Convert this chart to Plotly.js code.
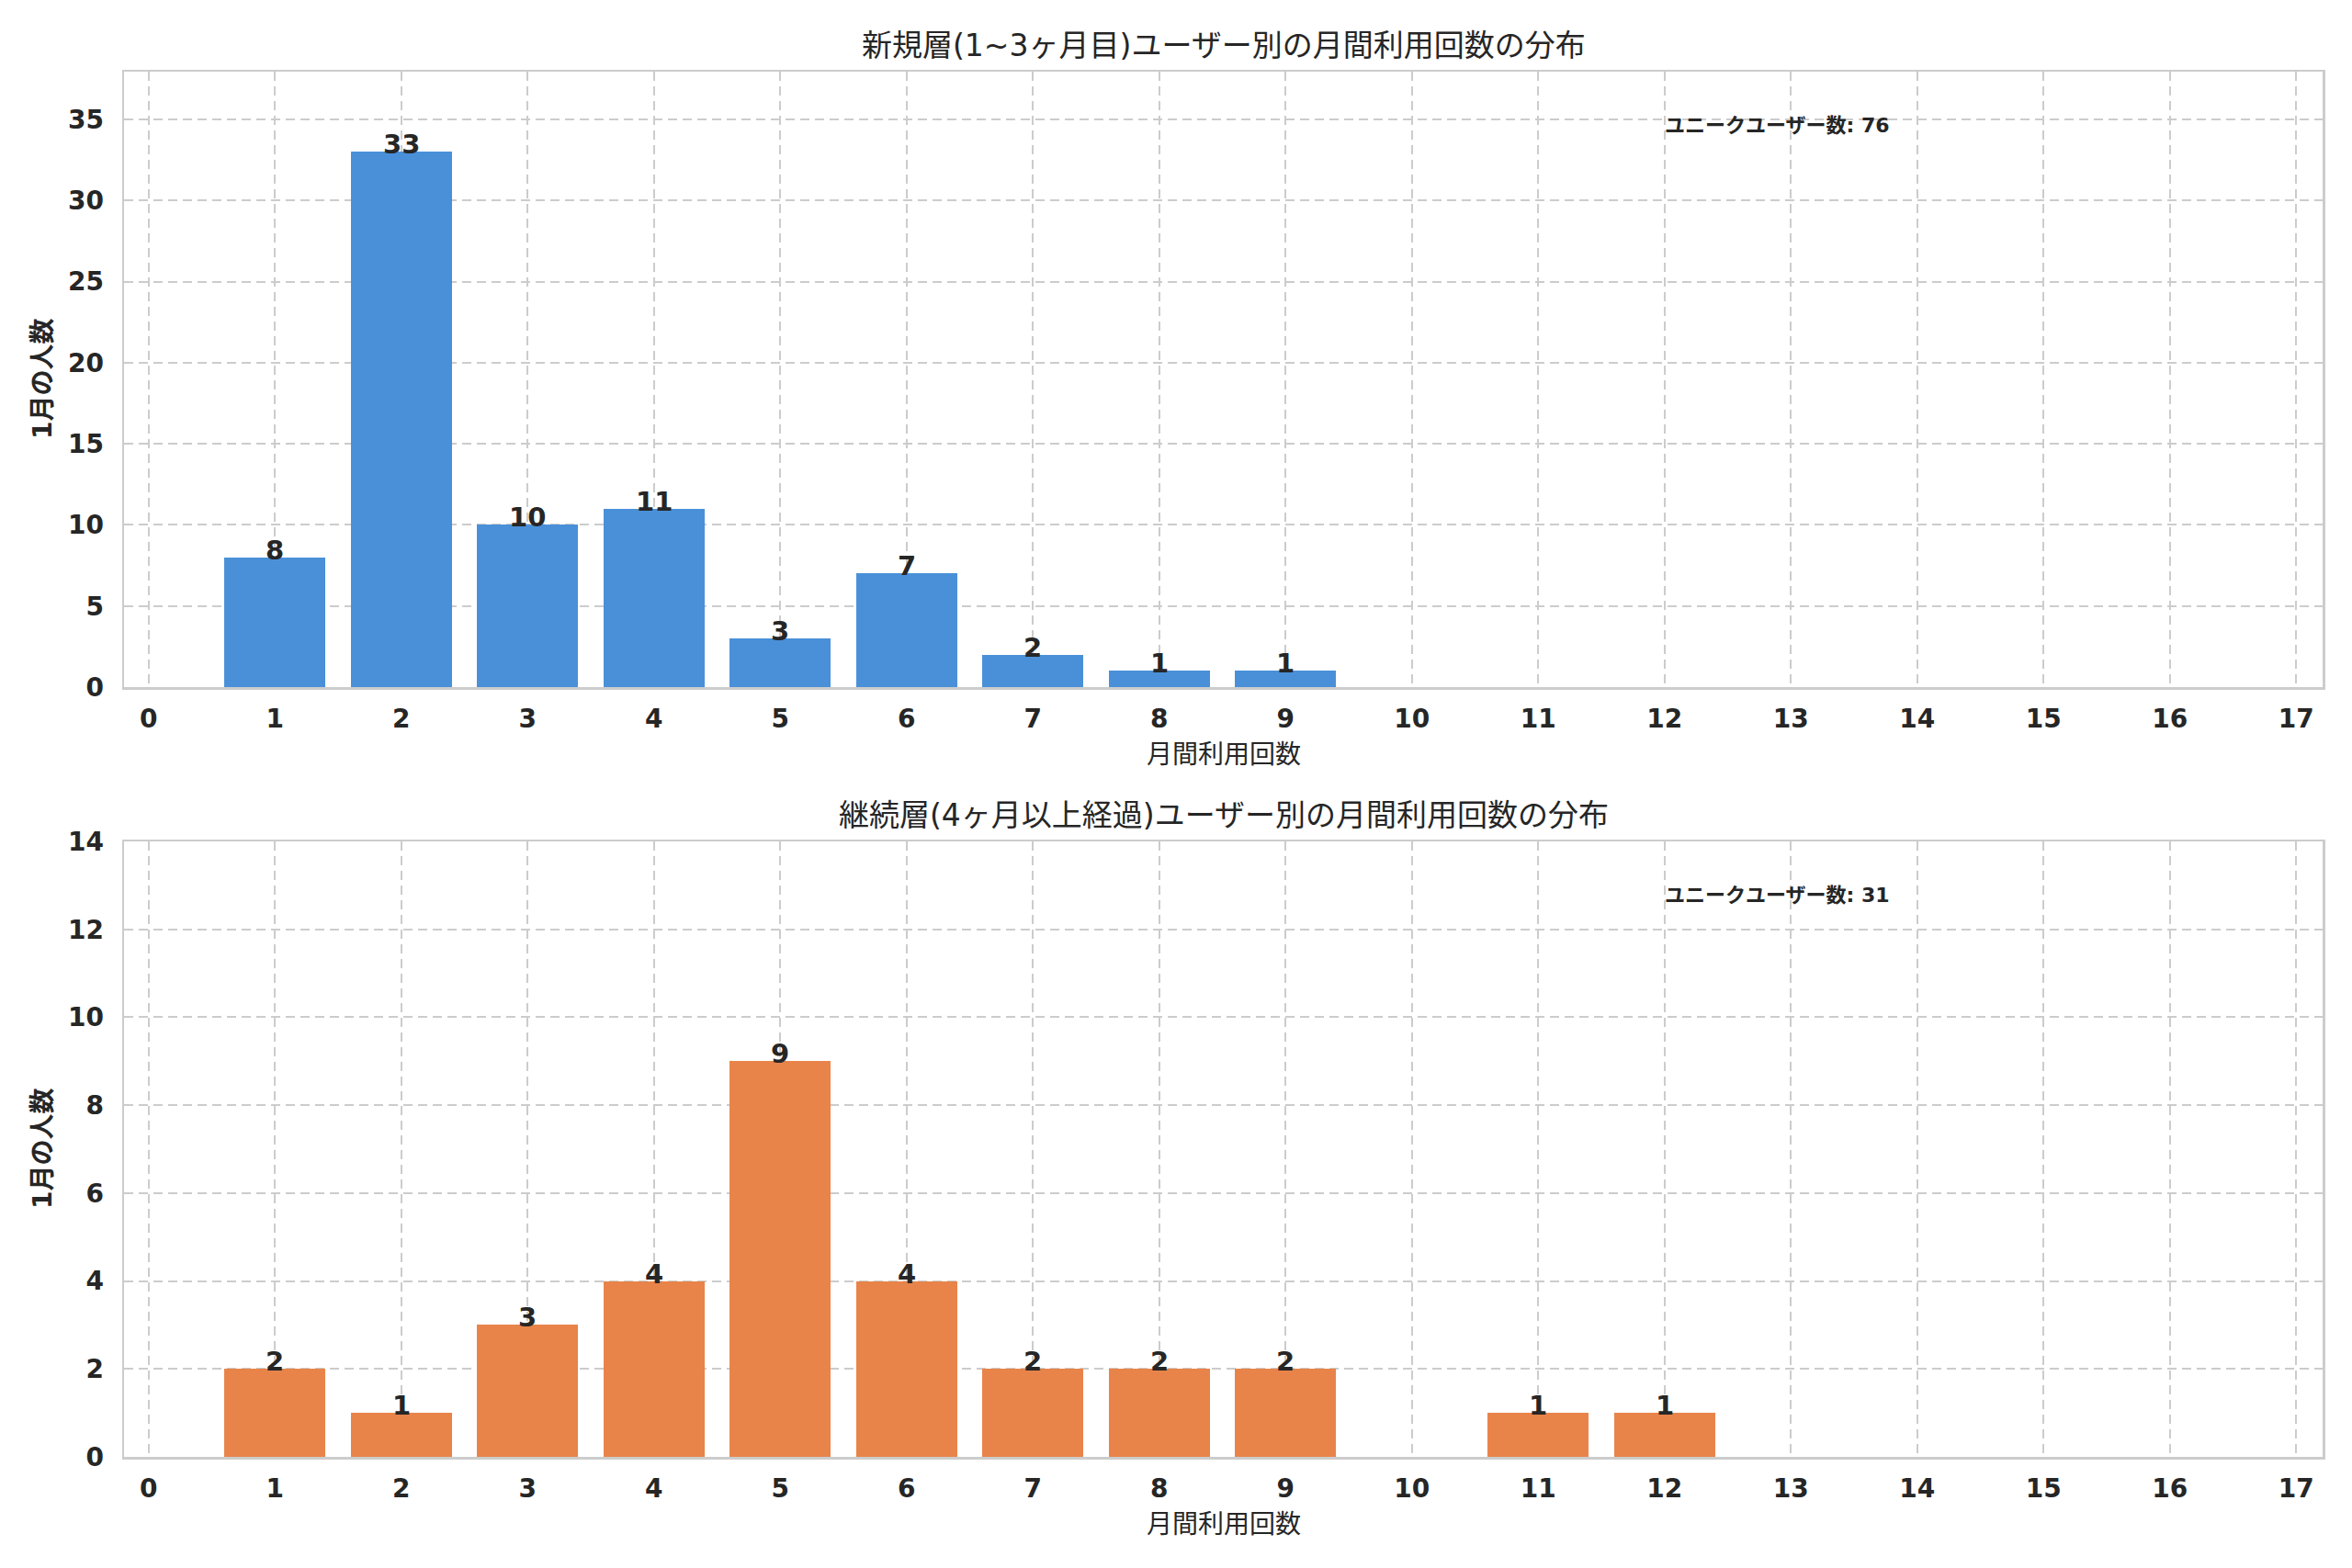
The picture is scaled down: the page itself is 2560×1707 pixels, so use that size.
<!DOCTYPE html>
<html>
<head>
<meta charset="utf-8">
<script src="https://cdn.plot.ly/plotly-3.0.1.min.js"></script>
<style>
  html, body { margin: 0; padding: 0; background: #fff; }
  #chart { width: 2560px; height: 1707px; }
</style>
</head>
<body>
<div id="chart"></div>
<script>
// データ（上：1~3ヶ月目、下：4ヶ月以上）
const xTicks = [0, 1, 2, 3, 4, 5, 6, 7, 8, 9, 10, 11, 12, 13, 14, 15, 16, 17];

const earlyX = [1, 2, 3, 4, 5, 6, 7, 8, 9];
const earlyY = [8, 33, 10, 11, 3, 7, 2, 1, 1];

const lateX = [1, 2, 3, 4, 5, 6, 7, 8, 9, 11, 12];
const lateY = [2, 1, 3, 4, 9, 4, 2, 2, 2, 1, 1];

const titles = [
  '新規層(1~3ヶ月目)ユーザー別の月間利用回数の分布',
  '継続層(4ヶ月以上経過)ユーザー別の月間利用回数の分布'
];
const xLabel = '月間利用回数';
const yLabel = '1月の人数';
const totalLabel = 'ユニークユーザー数';

const FONT = '"DejaVu Sans", "Noto Sans CJK JP", sans-serif';
const INK = '#262626';
const GRID = '#cccccc';

const xDom = [135 / 2560, 2528 / 2560];
const yDomTop = [1 - 748 / 1707, 1 - 78 / 1707];
const yDomBot = [1 - 1586 / 1707, 1 - 916 / 1707];

const sum = arr => arr.reduce((a, b) => a + b, 0);

function axisX(anchor) {
  return {
    domain: xDom, anchor, range: [-0.195, 17.21],
    tickvals: xTicks, ticktext: xTicks.map(String),
    showgrid: true, gridcolor: GRID, gridwidth: 2, griddash: '10px,6px',
    showline: true, mirror: true, linecolor: GRID, linewidth: 2.5,
    zeroline: false, ticks: '', ticklabelstandoff: 8,
    tickfont: { family: FONT, size: 28, color: INK, weight: 'bold' },
  };
}

function axisY(anchor, domain, range, dtick) {
  return {
    domain, anchor, range, dtick,
    showgrid: true, gridcolor: GRID, gridwidth: 2, griddash: '10px,6px',
    showline: true, mirror: true, linecolor: GRID, linewidth: 2.5,
    zeroline: false, ticks: '', ticklabelstandoff: 14,
    tickfont: { family: FONT, size: 28, color: INK, weight: 'bold' },
  };
}

const traces = [
  {
    type: 'bar', x: earlyX, y: earlyY, width: 0.8,
    marker: { color: '#4a90d9', line: { width: 0 } },
    xaxis: 'x', yaxis: 'y', hoverinfo: 'x+y',
  },
  {
    type: 'bar', x: lateX, y: lateY, width: 0.8,
    marker: { color: '#e8844a', line: { width: 0 } },
    xaxis: 'x2', yaxis: 'y2', hoverinfo: 'x+y',
  },
];

const annotations = [];

// 棒の上の数値ラベル
function barLabels(xs, ys, xref, yref) {
  xs.forEach((x, i) => {
    annotations.push({
      x, y: ys[i], xref, yref, text: String(ys[i]), showarrow: false,
      yanchor: 'bottom', yshift: -11,
      font: { family: FONT, size: 29, color: INK, weight: 'bold' },
    });
  });
}
barLabels(earlyX, earlyY, 'x', 'y');
barLabels(lateX, lateY, 'x2', 'y2');

// タイトル・軸ラベル・合計
const panels = [
  { xr: 'x', yr: 'y', dom: yDomTop, titleY: 49, xlabY: 821, total: sum(earlyY) },
  { xr: 'x2', yr: 'y2', dom: yDomBot, titleY: 887, xlabY: 1659, total: sum(lateY) },
];
panels.forEach((p, i) => {
  const cx = (xDom[0] + xDom[1]) / 2;
  annotations.push({
    xref: 'paper', yref: 'paper', x: cx, y: 1 - p.titleY / 1707,
    text: titles[i], showarrow: false, xanchor: 'center', yanchor: 'middle',
    font: { family: FONT, size: 33, color: INK },
  });
  annotations.push({
    xref: 'paper', yref: 'paper', x: cx, y: 1 - p.xlabY / 1707,
    text: xLabel, showarrow: false, xanchor: 'center', yanchor: 'middle',
    font: { family: FONT, size: 28, color: INK },
  });
  annotations.push({
    xref: 'paper', yref: 'paper', x: 47 / 2560, y: (p.dom[0] + p.dom[1]) / 2,
    text: yLabel, showarrow: false, textangle: -90, xanchor: 'center', yanchor: 'middle',
    font: { family: FONT, size: 28, color: INK, weight: 'bold' },
  });
  annotations.push({
    xref: p.xr + ' domain', yref: p.yr + ' domain', x: 0.7, y: 0.912,
    text: totalLabel + ': ' + p.total, showarrow: false, xanchor: 'left', yanchor: 'middle',
    font: { family: FONT, size: 22, color: INK, weight: 'bold' },
  });
});

const layout = {
  width: 2560, height: 1707,
  margin: { l: 0, r: 0, t: 0, b: 0 },
  paper_bgcolor: '#ffffff', plot_bgcolor: '#ffffff',
  showlegend: false, bargap: 0,
  xaxis: axisX('y'),
  yaxis: axisY('x', yDomTop, [0, 37.95], 5),
  xaxis2: axisX('y2'),
  yaxis2: axisY('x2', yDomBot, [0, 14], 2),
  annotations,
};

Plotly.newPlot('chart', traces, layout, { displayModeBar: false, staticPlot: true });
</script>
</body>
</html>
